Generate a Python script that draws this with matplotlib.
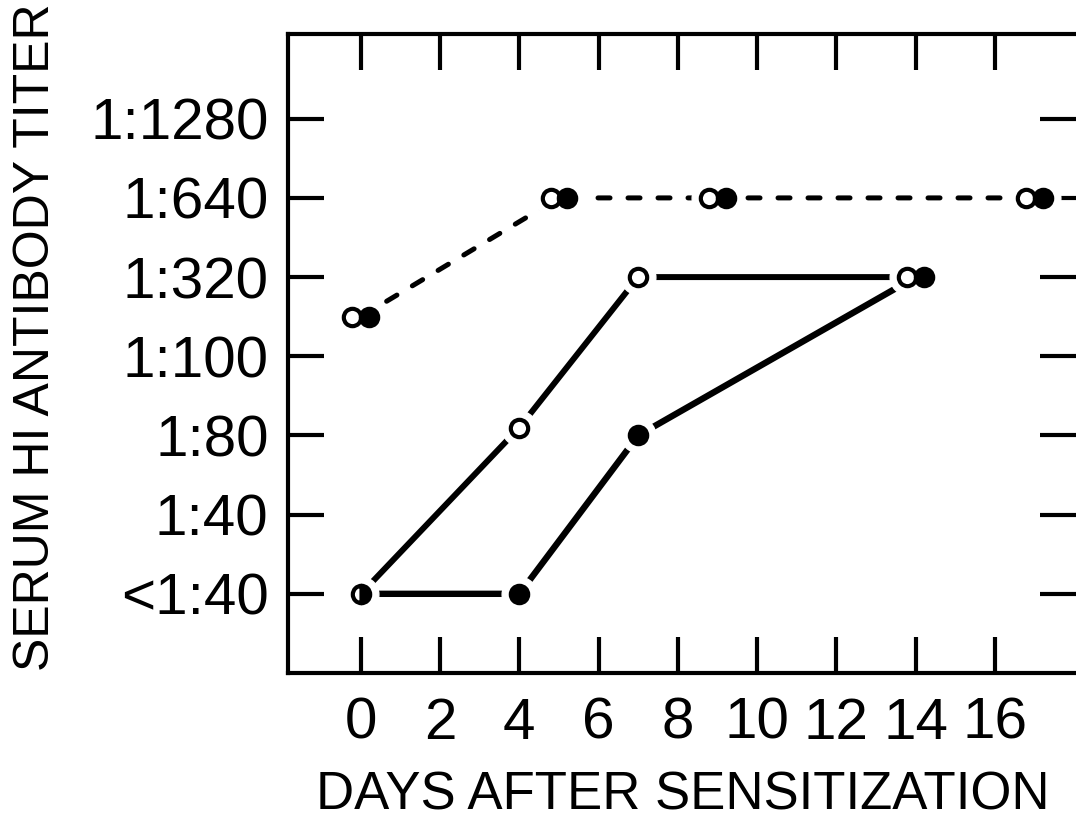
import matplotlib
matplotlib.use('Agg')
import matplotlib.pyplot as plt
from matplotlib.transforms import ScaledTranslation

# titer levels are plotted as category index 0..6
titer_labels = ['<1:40', '1:40', '1:80', '1:100', '1:320', '1:640', '1:1280']
day_ticks = [0, 2, 4, 6, 8, 10, 12, 14, 16]

# dashed group (open + filled pair at every point)
dash_days = [0, 5, 9, 17]
dash_titer = [3.5, 5, 5, 5]

# solid group, open circles
open_days = [0, 4, 7, 14]
open_titer = [0, 2.1, 4, 4]

# solid group, filled circles
filled_days = [0, 4, 7, 14]
filled_titer = [0, 0, 2, 4]

plt.rcParams['font.family'] = ['Liberation Sans', 'DejaVu Sans']

fig = plt.figure(figsize=(10.76, 8.22), dpi=100)
ax = fig.add_axes([288/1076, 149/822, 788/1076, 639/822])

shift = 6.1  # points, half distance between paired markers
def off(dx):
    return ax.transData + ScaledTranslation(dx/72.0, 0, fig.dpi_scale_trans)

ms = 12.5
mew = 3.0
halo = 25

# lines
ax.plot(dash_days, dash_titer, color='black', lw=3.6, linestyle=(0, (2.4, 3.6)),
        dash_capstyle='round', zorder=1)
ax.plot(open_days, open_titer, color='black', lw=4.3, solid_capstyle='round', zorder=1)
ax.plot(filled_days, filled_titer, color='black', lw=4.6, solid_capstyle='round', zorder=1)

# white halos so the lines stop short of the markers
ax.plot(dash_days, dash_titer, 'o', color='white', ms=halo, transform=off(-shift), zorder=2)
ax.plot(dash_days, dash_titer, 'o', color='white', ms=halo, transform=off(shift), zorder=2)
ax.plot(open_days[:3], open_titer[:3], 'o', color='white', ms=halo, zorder=2)
ax.plot(filled_days[1:3], filled_titer[1:3], 'o', color='white', ms=halo, zorder=2)
ax.plot(open_days[3:], open_titer[3:], 'o', color='white', ms=halo, transform=off(-shift), zorder=2)
ax.plot(filled_days[3:], filled_titer[3:], 'o', color='white', ms=halo, transform=off(shift), zorder=2)

# markers
ax.plot(dash_days, dash_titer, 'o', mfc='white', mec='black', ms=ms, mew=mew,
        transform=off(-shift), zorder=3)
ax.plot(dash_days, dash_titer, 'o', mfc='black', mec='black', ms=ms, mew=mew,
        transform=off(shift), zorder=3)
ax.plot(open_days[1:3], open_titer[1:3], 'o', mfc='white', mec='black', ms=ms, mew=mew, zorder=3)
ax.plot(open_days[3:], open_titer[3:], 'o', mfc='white', mec='black', ms=ms, mew=mew,
        transform=off(-shift), zorder=3)
ax.plot(filled_days[1:3], filled_titer[1:3], 'o', mfc='black', mec='black', ms=ms, mew=mew, zorder=3)
ax.plot(filled_days[3:], filled_titer[3:], 'o', mfc='black', mec='black', ms=ms, mew=mew,
        transform=off(shift), zorder=3)
# shared start point, half open / half filled
ax.plot(open_days[:1], open_titer[:1], 'o', fillstyle='right', mfc='black', mfcalt='white',
        mec='black', ms=ms, mew=mew, zorder=3)

ax.set_xlim(-1.84, 18.05)
ax.set_ylim(-1.0, 7.07)
ax.set_xticks(day_ticks)
ax.set_xticklabels([str(d) for d in day_ticks])
ax.set_yticks(range(len(titer_labels)))
ax.set_yticklabels(titer_labels)

for s in ['left', 'bottom', 'top']:
    ax.spines[s].set_linewidth(3)
ax.spines['right'].set_visible(False)

ax.tick_params(direction='in', length=26, width=3, top=True, right=True)
ax.tick_params(axis='x', labelsize=42, pad=17)
ax.tick_params(axis='y', labelsize=42, pad=14)

fig.text(683/1076, 1 - 809/822, 'DAYS AFTER SENSITIZATION', fontsize=38,
         ha='center', va='baseline')
fig.text(36/1076, 1 - 337/822, 'SERUM HI ANTIBODY TITER', fontsize=36,
         rotation=90, ha='center', va='center')

fig.savefig('out.png', dpi=100)
